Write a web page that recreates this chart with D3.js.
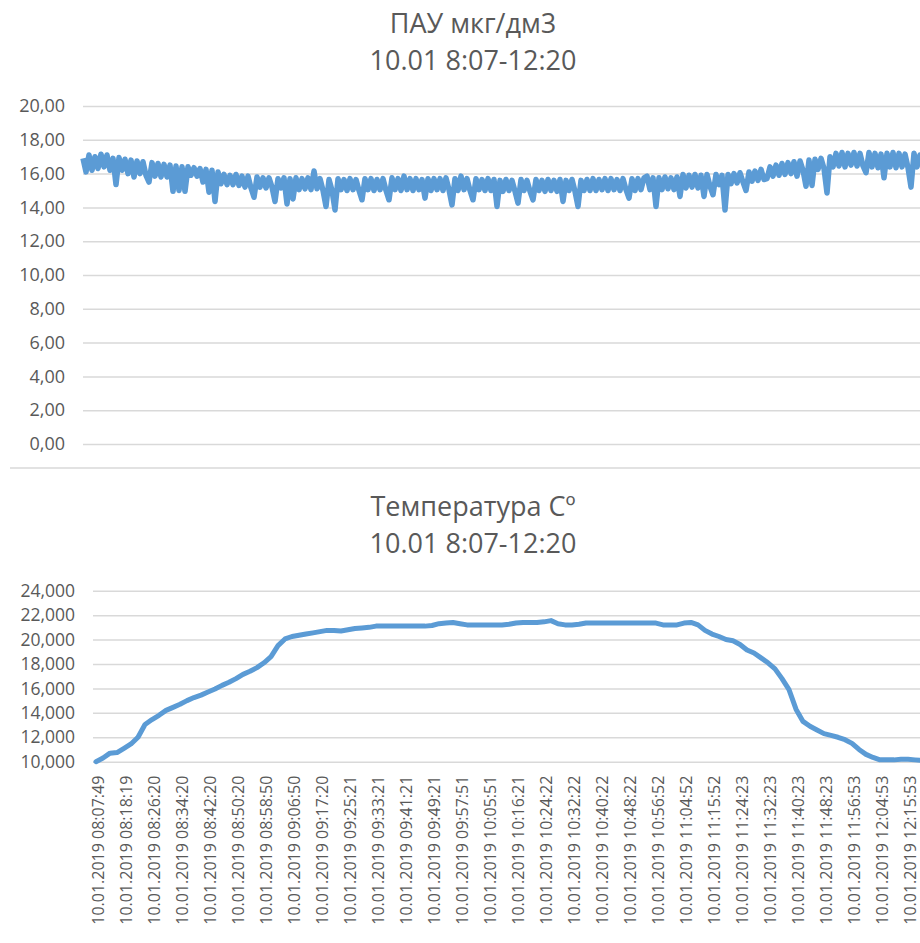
<!DOCTYPE html>
<html>
<head>
<meta charset="utf-8">
<script src="https://cdn.jsdelivr.net/npm/d3@7"></script>
<style>
  body { margin: 0; background: #fff; }
  text { font-family: "Open Sans", sans-serif; fill: #595959; }
</style>
</head>
<body>
<div id="chart"></div>
<script>
// titles
var pahTitle = ["ПАУ мкг/дм3", "10.01 8:07-12:20"]
var tempTitle = ["Температура Сº", "10.01 8:07-12:20"]

// y ticks
var pahTicks = [0, 2, 4, 6, 8, 10, 12, 14, 16, 18, 20]
var tempTicks = [10, 12, 14, 16, 18, 20, 22, 24]

// category labels, one every 4 temperature points
var timeLabels = ["10.01.2019 08:07:49", "10.01.2019 08:18:19", "10.01.2019 08:26:20", "10.01.2019 08:34:20",
	"10.01.2019 08:42:20", "10.01.2019 08:50:20", "10.01.2019 08:58:50", "10.01.2019 09:06:50",
	"10.01.2019 09:17:20", "10.01.2019 09:25:21", "10.01.2019 09:33:21", "10.01.2019 09:41:21",
	"10.01.2019 09:49:21", "10.01.2019 09:57:51", "10.01.2019 10:05:51", "10.01.2019 10:16:21",
	"10.01.2019 10:24:22", "10.01.2019 10:32:22", "10.01.2019 10:40:22", "10.01.2019 10:48:22",
	"10.01.2019 10:56:52", "10.01.2019 11:04:52", "10.01.2019 11:15:52", "10.01.2019 11:24:23",
	"10.01.2019 11:32:23", "10.01.2019 11:40:23", "10.01.2019 11:48:23", "10.01.2019 11:56:53",
	"10.01.2019 12:04:53", "10.01.2019 12:15:53"]
var labelStep = 4

// PAH readings (mkg/dm3)
var pahValues = [
	16.9, 16.1, 17.1, 16.2, 17.0, 16.3, 17.15, 16.4, 17.1, 16.2,
	16.9, 15.35, 16.95, 16.2, 16.85, 16.0, 16.8, 15.8, 16.75, 16.0,
	16.7, 15.9, 15.5, 16.65, 15.85, 16.6, 15.8, 16.55, 15.8, 16.5,
	14.95, 16.45, 15.0, 16.4, 14.95, 16.4, 15.9, 16.35, 15.85, 16.3,
	15.5, 16.25, 14.9, 16.2, 14.35, 16.1, 15.4, 15.95, 15.35, 15.9,
	15.35, 15.95, 15.3, 15.85, 15.2, 15.85, 15.15, 14.6, 15.8, 15.2,
	15.75, 15.15, 15.75, 15.2, 14.35, 15.7, 15.15, 15.75, 14.2, 15.7,
	14.5, 15.75, 15.05, 15.7, 15.1, 15.75, 15.05, 16.15, 15.1, 15.7,
	15.0, 14.05, 15.65, 15.0, 13.85, 15.7, 15.05, 15.65, 15.0, 15.7,
	15.05, 15.65, 15.0, 14.45, 15.7, 15.05, 15.7, 15.0, 15.65, 15.05,
	15.7, 15.0, 14.45, 15.75, 15.05, 15.7, 15.0, 15.85, 15.05, 15.7,
	15.0, 15.7, 15.05, 15.65, 14.55, 15.7, 15.0, 15.7, 15.05, 15.7,
	15.0, 15.75, 15.05, 14.15, 15.7, 15.0, 15.85, 15.05, 15.7, 15.0,
	14.45, 15.7, 15.05, 15.65, 15.0, 15.7, 15.0, 15.65, 14.05, 15.6,
	14.95, 15.65, 15.0, 15.6, 14.95, 14.25, 15.65, 15.0, 15.6, 14.95,
	14.45, 15.65, 15.0, 15.6, 14.95, 15.65, 15.0, 15.6, 14.95, 15.65,
	14.35, 15.6, 15.0, 15.65, 14.95, 14.05, 15.6, 15.0, 15.65, 15.0,
	15.7, 15.0, 15.65, 15.05, 15.7, 15.0, 15.7, 15.05, 15.65, 15.0,
	15.7, 15.05, 14.55, 15.7, 15.0, 15.7, 15.05, 15.75, 15.85, 15.05,
	15.75, 14.05, 15.75, 15.05, 15.8, 15.1, 15.75, 15.05, 15.8, 14.65,
	15.95, 15.15, 15.9, 15.2, 15.95, 15.15, 15.9, 14.65, 15.95, 15.25,
	14.75, 15.95, 15.35, 15.9, 13.85, 15.95, 15.4, 16.0, 15.45, 16.05,
	15.5, 15.0, 16.1, 15.55, 16.15, 15.6, 16.25, 15.65, 15.7, 16.4,
	15.85, 16.5, 15.9, 16.6, 15.95, 16.65, 16.0, 16.7, 15.85, 16.75,
	16.2, 15.25, 16.8, 15.3, 16.85, 16.25, 16.9, 16.3, 14.85, 17.0,
	16.4, 17.2, 16.45, 17.25, 16.4, 17.2, 16.5, 17.25, 16.45, 17.2,
	16.45, 16.05, 17.25, 16.4, 17.2, 16.35, 17.15, 15.75, 17.2, 16.4,
	17.25, 16.35, 17.2, 16.4, 17.15, 16.35, 15.2, 17.2, 16.4, 17.1, 16.4]

// temperature readings (C)
var tempValues = [
	10.0, 10.3, 10.7, 10.75, 11.1, 11.45, 12.0, 13.05, 13.45, 13.8,
	14.2, 14.45, 14.7, 15.0, 15.25, 15.45, 15.7, 15.95, 16.25, 16.5,
	16.8, 17.15, 17.4, 17.7, 18.1, 18.6, 19.5, 20.05, 20.25, 20.35,
	20.45, 20.55, 20.65, 20.75, 20.75, 20.7, 20.8, 20.9, 20.95, 21.0,
	21.1, 21.1, 21.1, 21.1, 21.1, 21.1, 21.1, 21.1, 21.15, 21.3,
	21.35, 21.4, 21.3, 21.2, 21.2, 21.2, 21.2, 21.2, 21.2, 21.25,
	21.35, 21.4, 21.4, 21.4, 21.45, 21.55, 21.3, 21.2, 21.2, 21.25,
	21.35, 21.35, 21.35, 21.35, 21.35, 21.35, 21.35, 21.35, 21.35, 21.35,
	21.35, 21.2, 21.2, 21.2, 21.35, 21.4, 21.2, 20.75, 20.45, 20.25,
	20.0, 19.9, 19.6, 19.15, 18.9, 18.5, 18.1, 17.6, 16.8, 15.9,
	14.3, 13.3, 12.9, 12.6, 12.3, 12.15, 12.0, 11.8, 11.5, 11.0,
	10.6, 10.35, 10.15, 10.15, 10.15, 10.2, 10.2, 10.15, 10.1, 10.05, 10.0]

var W = 920, H = 943
var lineColor = "#5b9bd5"
var gridColor = "#d9d9d9"

var ru = d3.formatLocale({ decimal: ",", thousands: " ", grouping: [3], currency: ["", ""] })

var svg = d3.select("#chart").append("svg")
	.attr("width", W)
	.attr("height", H)

svg.append("rect").attr("width", W).attr("height", H).attr("fill", "#fff")

function drawTitle(lines, y0) {
	svg.append("g").selectAll("text")
		.data(lines)
		.enter().append("text")
		.attr("x", 473)
		.attr("y", function (d, i) { return y0 + i * 37 })
		.attr("text-anchor", "middle")
		.style("font-size", "27px")
		.text(function (d) { return d })
}

function drawGrid(y, ticks, left, labelRight, fmt, fontSize) {
	var g = svg.append("g")
		.attr("transform", "translate(" + left + ",0)")
		.call(d3.axisLeft(y).tickValues(ticks).tickSize(-(W + 20 - left)).tickFormat(fmt))
	g.select(".domain").remove()
	g.selectAll(".tick line").attr("stroke", gridColor).attr("stroke-width", 1.5)
	g.selectAll(".tick text")
		.attr("x", labelRight - left)
		.attr("fill", "#595959")
		.style("font-size", fontSize)
	return g
}

// ---- top chart: PAH ----
drawTitle(pahTitle, 33)

var yP = d3.scaleLinear().domain([0, 20]).range([444, 106])
var xP = d3.scaleLinear().domain([0, pahValues.length - 1]).range([83, 923])

drawGrid(yP, pahTicks, 83, 65, ru.format(".2f"), "18px")

svg.append("path")
	.datum(pahValues)
	.attr("fill", "none")
	.attr("stroke", lineColor)
	.attr("stroke-width", 5.5)
	.attr("stroke-linejoin", "round")
	.attr("d", d3.line().x(function (d, i) { return xP(i) }).y(function (d) { return yP(d) }))

// separator between charts
svg.append("line")
	.attr("x1", 10).attr("x2", W)
	.attr("y1", 468).attr("y2", 468)
	.attr("stroke", gridColor).attr("stroke-width", 1.5)

// ---- bottom chart: temperature ----
drawTitle(tempTitle, 516)

var yT = d3.scaleLinear().domain([10, 24]).range([761.7, 590.7])
var xT = d3.scaleLinear().domain([0, 120]).range([96, 936])

drawGrid(yT, tempTicks, 93, 75, ru.format(".3f"), "17.5px")

var labelIdx = timeLabels.map(function (d, i) { return i * labelStep })
var gx = svg.append("g")
	.attr("transform", "translate(0," + yT(10) + ")")
	.call(d3.axisBottom(xT).tickValues(labelIdx).tickSize(0)
		.tickFormat(function (d) { return timeLabels[d / labelStep] }))
gx.select(".domain").remove()
gx.selectAll(".tick text")
	.attr("transform", "rotate(-90)")
	.attr("x", -14)
	.attr("y", 0)
	.attr("dy", "0.45em")
	.attr("text-anchor", "end")
	.attr("fill", "#595959")
	.style("font-size", "16px")

svg.append("path")
	.datum(tempValues)
	.attr("fill", "none")
	.attr("stroke", lineColor)
	.attr("stroke-width", 5)
	.attr("stroke-linejoin", "round")
	.attr("stroke-linecap", "round")
	.attr("d", d3.line().x(function (d, i) { return xT(i) }).y(function (d) { return yT(d) }))
</script>
</body>
</html>
